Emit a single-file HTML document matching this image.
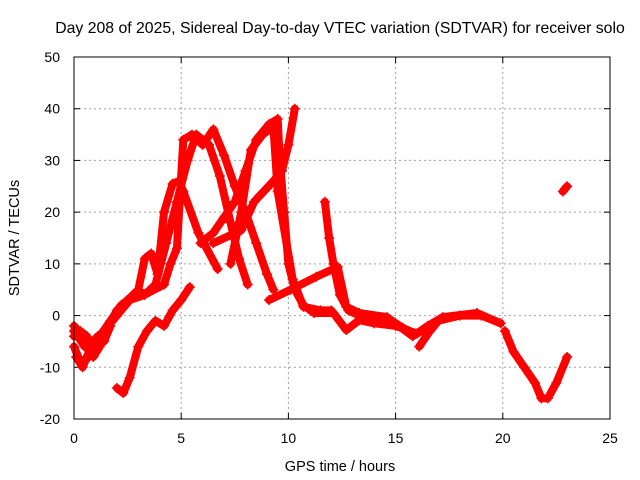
<!DOCTYPE html>
<html><head><meta charset="utf-8"><style>
body{margin:0;background:#fff}
svg{display:block;font-family:"Liberation Sans",sans-serif}
</style></head><body>
<svg id="chart" width="640" height="480">
<text x="340" y="33" text-anchor="middle" font-size="15.8">Day 208 of 2025, Sidereal Day-to-day VTEC variation (SDTVAR) for receiver solo</text>
<text transform="translate(19,238) rotate(-90)" text-anchor="middle" font-size="14.5">SDTVAR / TECUs</text>
<text x="340" y="471" text-anchor="middle" font-size="14.5">GPS time / hours</text>
<g id="grid"></g><g id="series"></g>
<rect x="74" y="57" width="536" height="362" fill="none" stroke="#000" stroke-width="1"/>
</svg>
<script>
const xTicks=[0,5,10,15,20,25];
const yTicks=[-20,-10,0,10,20,30,40,50];
const track1=[[0,-3],[0.5,-6],[1,-7],[1.5,-3],[2,1],[2.5,3],[3,5],[3.3,11],[3.6,12],[3.9,8],[4.2,20],[4.6,25.5],[4.9,26],[5.1,24],[5.8,16],[6.7,9]];
const track2=[[0,-6],[0.3,-9],[0.7,-8],[1.2,-4],[1.7,-1],[2.2,2],[2.8,4],[3.5,4.5],[4.2,6],[4.5,10],[4.8,13],[5.1,34],[5.5,35],[6,33],[6.5,36],[7,31],[7.5,25],[8,20],[8.5,14],[9,8],[9.3,5]];
const track3=[[0,-2],[0.4,-4],[0.9,-5],[1.4,-3],[2,0],[2.6,3],[3.3,4],[3.8,6],[4.3,14],[4.8,22],[5.3,30],[5.7,35],[6.3,33],[6.8,27],[7.3,18],[7.7,11],[8.1,6]];
const track4=[[5.9,14],[6.5,16],[7,19],[7.5,22],[8,28],[8.5,34],[9.1,37],[9.5,38],[9.6,30],[9.8,20],[10,10],[10.3,5],[10.7,2],[11.2,0.5],[12.1,0.5],[12.7,-2.8],[13.3,-0.9],[14,-1.5],[15,-2],[16,-3.5],[17,-1],[18,0],[19,0],[19.9,-1.5]];
const track5=[[7.3,10],[7.8,20],[8.25,32],[8.8,35],[9.3,36.5],[9.5,24],[10.2,7],[10.7,1.7],[11.5,1],[12,1]];
const track6=[[10.3,40],[10,33],[9.7,28],[9.3,26],[8.4,22],[7.8,16.5],[6.5,14]];
const track7=[[2,-14],[2.3,-15],[2.6,-12],[3,-6],[3.4,-3],[3.8,-1],[4.2,-2],[4.6,1],[5,3],[5.4,5.5]];
const track8=[[9.1,3],[10.1,5],[11.3,7.5],[12.3,9.4],[12.7,1.7],[13.3,0.5],[14.6,-0.3],[15.8,-4],[16.5,-2],[17.2,-0.3],[18.8,0.5],[19.9,-1.5]];
const track9=[[11.7,22],[11.9,15],[12.1,10],[12.4,4],[12.8,1],[13.3,0],[14,-0.5],[15,-1.5],[15.6,-3]];
const track10=[[16.1,-6],[16.6,-3],[17,-1]];
const track11=[[20.1,-3],[20.5,-7],[21,-10],[21.5,-13],[21.8,-16],[22.1,-16],[22.5,-13],[23,-8]];
const track12=[[22.8,24],[23,25]];
const track13=[[0,-4],[0.3,-3],[0.6,-4],[0.9,-8],[1.2,-6],[1.5,-3]];
const track14=[[0.1,-8],[0.4,-10],[0.8,-6],[1.1,-4],[1.4,-5],[1.7,-2]];
const tracks=[track1,track2,track3,track4,track5,track6,track7,track8,track9,track10,track11,track12,track13,track14];
const X=t=>74+t*536/25, Y=v=>419-(v+20)*362/70;
const NS='http://www.w3.org/2000/svg';
const grid=document.getElementById('grid'), ser=document.getElementById('series'), svg=document.getElementById('chart');
function mk(tag,a,p){const e=document.createElementNS(NS,tag);for(const k in a)e.setAttribute(k,a[k]);p.appendChild(e);return e;}
xTicks.forEach(t=>{const x=X(t);
 if(t>0&&t<25){const g=mk('line',{x1:x,x2:x,y1:57,y2:419,stroke:'#a0a0a0','stroke-dasharray':'2,3'},grid);
 
 }
 mk('line',{x1:x,x2:x,y1:419,y2:413,stroke:'#000'},grid);mk('line',{x1:x,x2:x,y1:57,y2:63,stroke:'#000'},grid);
 const l=mk('text',{x:x,y:443,'text-anchor':'middle','font-size':14},svg);l.textContent=t;
 
 });
yTicks.forEach(v=>{const y=Y(v);
 if(v>-20&&v<50){const g=mk('line',{x1:74,x2:610,y1:y,y2:y,stroke:'#a0a0a0','stroke-dasharray':'2,3'},grid);
 
 }
 mk('line',{x1:74,x2:80,y1:y,y2:y,stroke:'#000'},grid);mk('line',{x1:610,x2:604,y1:y,y2:y,stroke:'#000'},grid);
 const l=mk('text',{x:60,y:y+5,'text-anchor':'end','font-size':14},svg);l.textContent=v;
 
 });
tracks.forEach((tr,i)=>{
 const p=mk('polyline',{points:tr.map(d=>X(d[0])+','+Y(d[1])).join(' '),fill:'none',stroke:'#ff0000','stroke-width':8,'stroke-linejoin':'round','stroke-linecap':'round'},ser);
 
 
 tr.forEach(d=>{const x=X(d[0]),y=Y(d[1]);
  const m=mk('path',{d:`M${x-5},${y}H${x+5}M${x},${y-5}V${y+5}`,stroke:'#ff0000','stroke-width':1.5},ser);
  
  });
});
</script>
</body></html>
